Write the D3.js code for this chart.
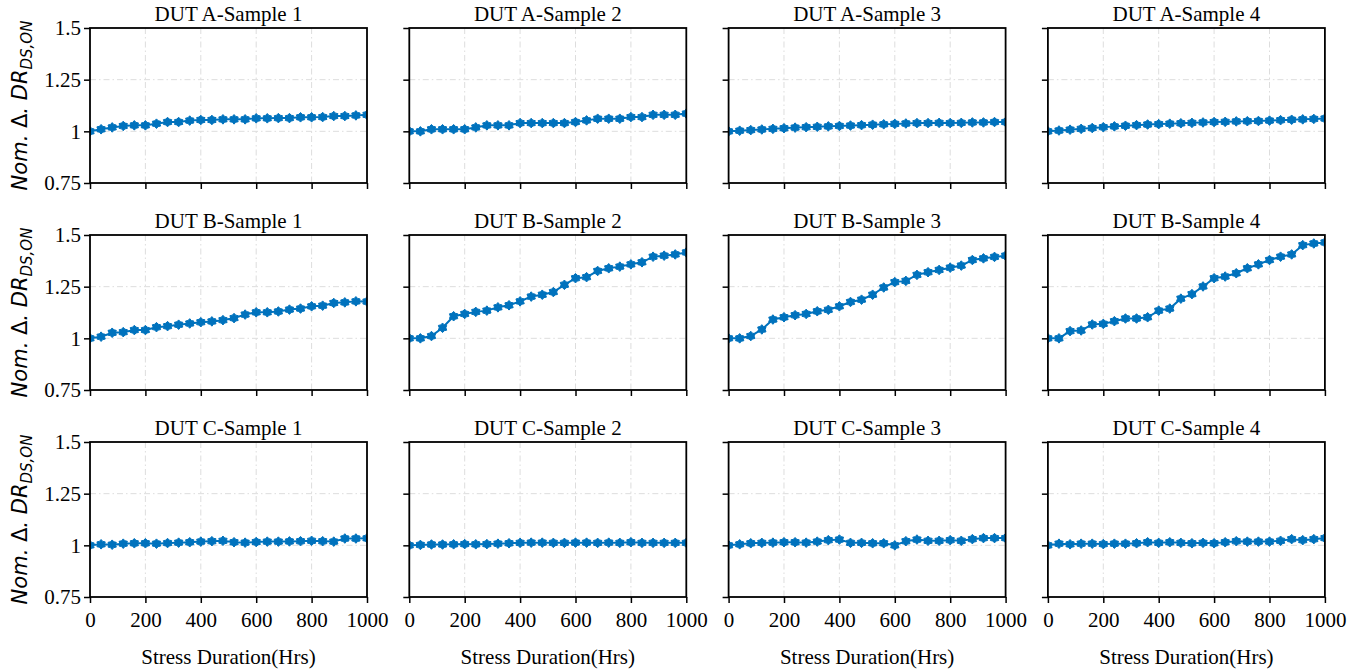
<!DOCTYPE html>
<html>
<head>
<meta charset="utf-8">
<script src="https://cdn.jsdelivr.net/npm/d3@7"></script>
<style>
body { margin: 0; background: #fff; }
svg text { font-family: "Liberation Serif", "Times New Roman", serif; fill: #000; }
svg text.ylab { font-family: "DejaVu Sans", sans-serif; font-style: italic; }
</style>
</head>
<body>
<div id="chart"></div>
<script>
// stress duration (hrs), one sample every 40 hrs
var hours = [0, 40, 80, 120, 160, 200, 240, 280, 320, 360, 400, 440, 480, 520, 560, 600, 640, 680, 720, 760, 800, 840, 880, 920, 960, 1000];

var xTicks = [0, 200, 400, 600, 800, 1000];
var yTicks = [0.75, 1, 1.25, 1.5];
var yTickLabels = ["0.75", "1", "1.25", "1.5"];

var devices = ["DUT A", "DUT B", "DUT C"];
var samples = ["Sample 1", "Sample 2", "Sample 3", "Sample 4"];

var dutA1 = [1.0, 1.010, 1.019, 1.026, 1.029, 1.029, 1.037, 1.045, 1.045, 1.052, 1.055, 1.055, 1.058, 1.058, 1.058, 1.063, 1.063, 1.064, 1.064, 1.068, 1.068, 1.069, 1.074, 1.074, 1.077, 1.080];
var dutA2 = [1.0, 1.0, 1.010, 1.010, 1.010, 1.010, 1.019, 1.029, 1.029, 1.029, 1.040, 1.040, 1.040, 1.040, 1.040, 1.045, 1.053, 1.061, 1.061, 1.061, 1.069, 1.069, 1.080, 1.080, 1.080, 1.086];
var dutA3 = [1.0, 1.003, 1.006, 1.009, 1.012, 1.015, 1.018, 1.020, 1.022, 1.024, 1.026, 1.028, 1.030, 1.032, 1.034, 1.036, 1.038, 1.040, 1.040, 1.041, 1.040, 1.041, 1.043, 1.043, 1.045, 1.045];
var dutA4 = [1.0, 1.004, 1.008, 1.012, 1.016, 1.020, 1.024, 1.027, 1.030, 1.033, 1.035, 1.037, 1.039, 1.041, 1.043, 1.045, 1.046, 1.048, 1.049, 1.050, 1.052, 1.054, 1.056, 1.058, 1.060, 1.062];

var dutB1 = [1.0, 1.008, 1.027, 1.030, 1.040, 1.040, 1.054, 1.059, 1.066, 1.072, 1.078, 1.082, 1.088, 1.098, 1.115, 1.126, 1.126, 1.130, 1.139, 1.144, 1.155, 1.158, 1.171, 1.174, 1.179, 1.178];
var dutB2 = [1.0, 1.0, 1.011, 1.051, 1.107, 1.118, 1.128, 1.134, 1.150, 1.160, 1.179, 1.202, 1.211, 1.224, 1.259, 1.291, 1.296, 1.326, 1.339, 1.347, 1.358, 1.368, 1.395, 1.400, 1.406, 1.416];
var dutB3 = [1.0, 1.0, 1.011, 1.043, 1.091, 1.102, 1.112, 1.118, 1.131, 1.138, 1.155, 1.176, 1.187, 1.211, 1.246, 1.272, 1.278, 1.307, 1.320, 1.331, 1.342, 1.352, 1.379, 1.387, 1.394, 1.400];
var dutB4 = [1.0, 1.0, 1.035, 1.038, 1.067, 1.070, 1.083, 1.096, 1.096, 1.102, 1.134, 1.144, 1.192, 1.214, 1.251, 1.291, 1.299, 1.315, 1.339, 1.358, 1.379, 1.395, 1.406, 1.451, 1.459, 1.464];

var dutC1 = [1.0, 1.005, 1.003, 1.008, 1.010, 1.010, 1.008, 1.011, 1.013, 1.015, 1.018, 1.020, 1.022, 1.015, 1.013, 1.016, 1.018, 1.018, 1.019, 1.020, 1.022, 1.020, 1.018, 1.033, 1.033, 1.034];
var dutC2 = [1.0, 1.002, 1.004, 1.004, 1.005, 1.006, 1.005, 1.006, 1.008, 1.010, 1.012, 1.013, 1.013, 1.012, 1.012, 1.013, 1.013, 1.012, 1.013, 1.012, 1.015, 1.012, 1.012, 1.012, 1.012, 1.012];
var dutC3 = [1.0, 1.005, 1.010, 1.012, 1.013, 1.015, 1.015, 1.013, 1.018, 1.025, 1.028, 1.012, 1.012, 1.010, 1.010, 1.0, 1.020, 1.028, 1.022, 1.022, 1.025, 1.022, 1.030, 1.035, 1.035, 1.035];
var dutC4 = [1.0, 1.008, 1.005, 1.008, 1.008, 1.006, 1.008, 1.008, 1.010, 1.015, 1.012, 1.015, 1.012, 1.010, 1.012, 1.010, 1.015, 1.020, 1.018, 1.018, 1.018, 1.022, 1.030, 1.025, 1.030, 1.035];

var series = [
    [dutA1, dutA2, dutA3, dutA4],
    [dutB1, dutB2, dutB3, dutB4],
    [dutC1, dutC2, dutC3, dutC4]
];

var svgWidth = 1363;
var svgHeight = 670;

var panelLeft = 90;
var panelTop = 28;
var colStep = 319.3;
var rowStep = 207;
var width = 277;
var height = 155;

var blue = "#0072BD";
var fontSize = 21;

var svg = d3.select("#chart")
    .append("svg")
    .attr("width", svgWidth)
    .attr("height", svgHeight);

var xScale = d3.scaleLinear().domain([0, 1000]).range([0, width]);
var yScale = d3.scaleLinear().domain([0.75, 1.5]).range([height, 0]);

// six pointed star marker
function starPath(r) {
    var pts = [];
    for (var i = 0; i < 12; i++) {
        var a = Math.PI / 6 * i - Math.PI / 2;
        var rr = i % 2 === 0 ? r : r * 0.7;
        pts.push([rr * Math.cos(a), rr * Math.sin(a)]);
    }
    return "M" + pts.map(p => p[0].toFixed(2) + "," + p[1].toFixed(2)).join("L") + "Z";
}

var line = d3.line()
    .x((d, i) => xScale(hours[i]))
    .y(d => yScale(d));

devices.forEach(function(dev, r) {
    samples.forEach(function(smp, c) {
        var values = series[r][c];
        var g = svg.append("g")
            .attr("transform", `translate(${panelLeft + c * colStep}, ${panelTop + r * rowStep})`);

        var clipId = "clip-" + r + "-" + c;
        g.append("clipPath").attr("id", clipId)
            .append("rect").attr("width", width).attr("height", height);

        // grid
        g.append("g").selectAll("line")
            .data(xTicks.slice(1, -1))
            .enter().append("line")
            .attr("x1", d => xScale(d)).attr("x2", d => xScale(d))
            .attr("y1", 0).attr("y2", height)
            .attr("stroke", "#d9d9d9").attr("stroke-width", 0.9)
            .attr("stroke-dasharray", "6,3,1.5,3");
        g.append("g").selectAll("line")
            .data(yTicks.slice(1, -1))
            .enter().append("line")
            .attr("y1", d => yScale(d)).attr("y2", d => yScale(d))
            .attr("x1", 0).attr("x2", width)
            .attr("stroke", "#d9d9d9").attr("stroke-width", 0.9)
            .attr("stroke-dasharray", "6,3,1.5,3");

        // data
        var dataG = g.append("g").attr("clip-path", `url(#${clipId})`);
        dataG.append("path")
            .datum(values)
            .attr("d", line)
            .attr("fill", "none")
            .attr("stroke", blue)
            .attr("stroke-width", 2);
        dataG.selectAll("path.mk")
            .data(values)
            .enter().append("path")
            .attr("class", "mk")
            .attr("d", starPath(4.8))
            .attr("transform", (d, i) => `translate(${xScale(hours[i])}, ${yScale(d)})`)
            .attr("fill", blue)
            .attr("stroke", blue)
            .attr("stroke-width", 1)
            .attr("stroke-linejoin", "round");

        // axes
        var xAxis = d3.axisBottom(xScale).tickValues(xTicks).tickSize(6).tickSizeOuter(0)
            .tickFormat(r === 2 ? d3.format("d") : "");
        var yAxis = d3.axisLeft(yScale).tickValues(yTicks).tickSize(6).tickSizeOuter(0)
            .tickFormat(c === 0 ? (d, i) => yTickLabels[i] : "");

        var gx = g.append("g").attr("transform", `translate(0, ${height})`).call(xAxis);
        var gy = g.append("g").call(yAxis);
        [gx, gy].forEach(function(ax) {
            ax.attr("font-family", null).attr("font-size", null);
            ax.select(".domain").remove();
            ax.selectAll(".tick line").attr("stroke", "#000").attr("stroke-width", 1.5);
            ax.selectAll(".tick text")
                .style("font-family", "'Liberation Serif', serif")
                .style("font-size", fontSize + "px")
                .attr("fill", "#000");
        });
        gx.selectAll(".tick text").attr("dy", "0.8em").attr("y", 13);
        gy.selectAll(".tick text").attr("x", -9).attr("dy", "0.33em");

        // frame
        g.append("rect")
            .attr("width", width).attr("height", height)
            .attr("fill", "none").attr("stroke", "#000").attr("stroke-width", 1.8);

        // title
        g.append("text")
            .attr("x", width / 2).attr("y", -7)
            .attr("text-anchor", "middle")
            .style("font-size", fontSize + "px")
            .text(dev + "-" + smp);

        if (r === 2) {
            g.append("text")
                .attr("x", width / 2).attr("y", height + 67)
                .attr("text-anchor", "middle")
                .style("font-size", fontSize + "px")
                .text("Stress Duration(Hrs)");
        }

        if (c === 0) {
            var yl = g.append("text")
                .attr("class", "ylab")
                .attr("transform", `translate(-63, ${height / 2}) rotate(-90)`)
                .attr("text-anchor", "middle")
                .style("font-size", "21px");
            yl.append("tspan").text("Nom. ");
            yl.append("tspan").style("font-style", "normal").text("Δ");
            yl.append("tspan").text(". DR");
            yl.append("tspan").style("font-size", "15px").attr("dy", 5).text("DS,ON");
        }
    });
});
</script>
</body>
</html>
